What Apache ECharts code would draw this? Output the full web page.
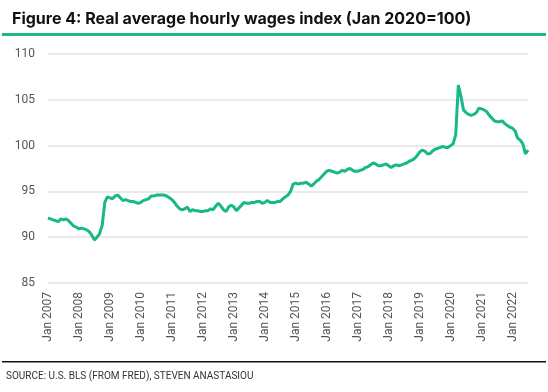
<!DOCTYPE html>
<html>
<head>
<meta charset="utf-8">
<script src="https://cdn.jsdelivr.net/npm/echarts@6/dist/echarts.min.js"></script>
<style>
html,body{margin:0;padding:0;background:#fff;}
#chart{width:548px;height:392px;}
</style>
</head>
<body>
<div id="chart"></div>
<script>
var years = ['2007','2008','2009','2010','2011','2012','2013','2014','2015','2016','2017','2018','2019','2020','2021','2022'];
var months = ['Jan','Feb','Mar','Apr','May','Jun','Jul','Aug','Sep','Oct','Nov','Dec'];
var yTicks = [85, 90, 95, 100, 105, 110];

var w2007 = [92.1, 92.0, 91.9, 91.8, 91.7, 92.0, 91.9, 92.0, 91.8, 91.5, 91.2, 91.1];
var w2008 = [90.9, 91.0, 90.9, 90.8, 90.6, 90.2, 89.7, 90.0, 90.4, 91.3, 93.8, 94.4];
var w2009 = [94.3, 94.2, 94.5, 94.6, 94.3, 94.0, 94.1, 94.0, 93.9, 93.9, 93.8, 93.7];
var w2010 = [93.8, 94.0, 94.1, 94.2, 94.5, 94.5, 94.6, 94.6, 94.6, 94.6, 94.5, 94.3];
var w2011 = [94.1, 93.8, 93.4, 93.1, 93.0, 93.1, 93.3, 92.8, 93.0, 92.9, 92.9, 92.8];
var w2012 = [92.8, 92.9, 92.9, 93.1, 93.0, 93.4, 93.7, 93.4, 93.0, 92.8, 93.3, 93.5];
var w2013 = [93.3, 92.9, 93.2, 93.5, 93.8, 93.7, 93.7, 93.8, 93.8, 93.9, 93.9, 93.7];
var w2014 = [93.8, 94.0, 93.8, 93.8, 93.8, 93.9, 93.9, 94.2, 94.4, 94.6, 95.0, 95.8];
var w2015 = [95.9, 95.8, 95.9, 95.9, 96.0, 95.8, 95.6, 95.8, 96.1, 96.3, 96.6, 96.9];
var w2016 = [97.2, 97.3, 97.2, 97.1, 97.0, 97.1, 97.3, 97.2, 97.4, 97.5, 97.3, 97.2];
var w2017 = [97.2, 97.3, 97.4, 97.6, 97.7, 97.9, 98.1, 98.0, 97.8, 97.8, 97.9, 98.0];
var w2018 = [97.8, 97.6, 97.8, 97.9, 97.8, 97.9, 98.0, 98.1, 98.3, 98.4, 98.6, 98.9];
var w2019 = [99.3, 99.5, 99.4, 99.1, 99.1, 99.4, 99.6, 99.7, 99.8, 99.9, 99.8, 99.8];
var w2020 = [100.0, 100.2, 101.2, 106.6, 105.4, 103.9, 103.6, 103.4, 103.3, 103.4, 103.6, 104.1];
var w2021 = [104.0, 103.9, 103.7, 103.3, 103.0, 102.7, 102.6, 102.6, 102.7, 102.4, 102.2, 102.0];
var w2022 = [101.9, 101.6, 100.8, 100.6, 100.2, 99.1, 99.5];

var wages = [].concat(w2007, w2008, w2009, w2010, w2011, w2012, w2013, w2014,
  w2015, w2016, w2017, w2018, w2019, w2020, w2021, w2022);

var categories = [];
years.forEach(function (y) {
  months.forEach(function (m) { categories.push(m + ' ' + y); });
});
categories = categories.slice(0, wages.length);

var GREEN = '#17b889';
var chart = echarts.init(document.getElementById('chart'), null, {renderer: 'canvas'});
chart.setOption({
  animation: false,
  backgroundColor: '#ffffff',
  title: {
    text: 'Figure 4: Real average hourly wages index (Jan 2020=100)',
    left: 7, top: 6,
    textStyle: {fontFamily: 'Inter', fontWeight: 'bold', fontSize: 16, color: '#111111'}
  },
  graphic: [
    {type: 'rect', left: 2, top: 33, shape: {width: 544, height: 3}, style: {fill: GREEN}},
    {type: 'rect', left: 2, top: 361, shape: {width: 544, height: 1.5}, style: {fill: '#111111'}},
    {type: 'text', left: 6, top: 371, style: {text: 'SOURCE: U.S. BLS (FROM FRED), STEVEN ANASTASIOU',
      font: '10px Roboto', fill: '#333333'}}
  ],
  grid: {left: 48, right: 20, top: 54, bottom: 109},
  xAxis: {
    type: 'category',
    data: categories,
    boundaryGap: false,
    axisLine: {show: false},
    axisTick: {show: false},
    axisLabel: {
      rotate: 90, margin: 9, color: '#555555', fontFamily: 'Roboto', fontSize: 12,
      interval: function (idx) { return idx % 12 === 0; }
    },
    splitLine: {show: false}
  },
  yAxis: {
    type: 'value',
    min: yTicks[0], max: yTicks[yTicks.length - 1], interval: 5,
    axisLine: {show: false},
    axisTick: {show: false},
    axisLabel: {color: '#555555', fontFamily: 'Roboto', fontSize: 12, margin: 13},
    splitLine: {lineStyle: {color: '#e3e3e3', width: 1.5}}
  },
  series: [{
    type: 'line',
    data: wages,
    showSymbol: false,
    symbol: 'none',
    lineStyle: {color: GREEN, width: 3},
    itemStyle: {color: GREEN}
  }]
});
</script>
</body>
</html>
